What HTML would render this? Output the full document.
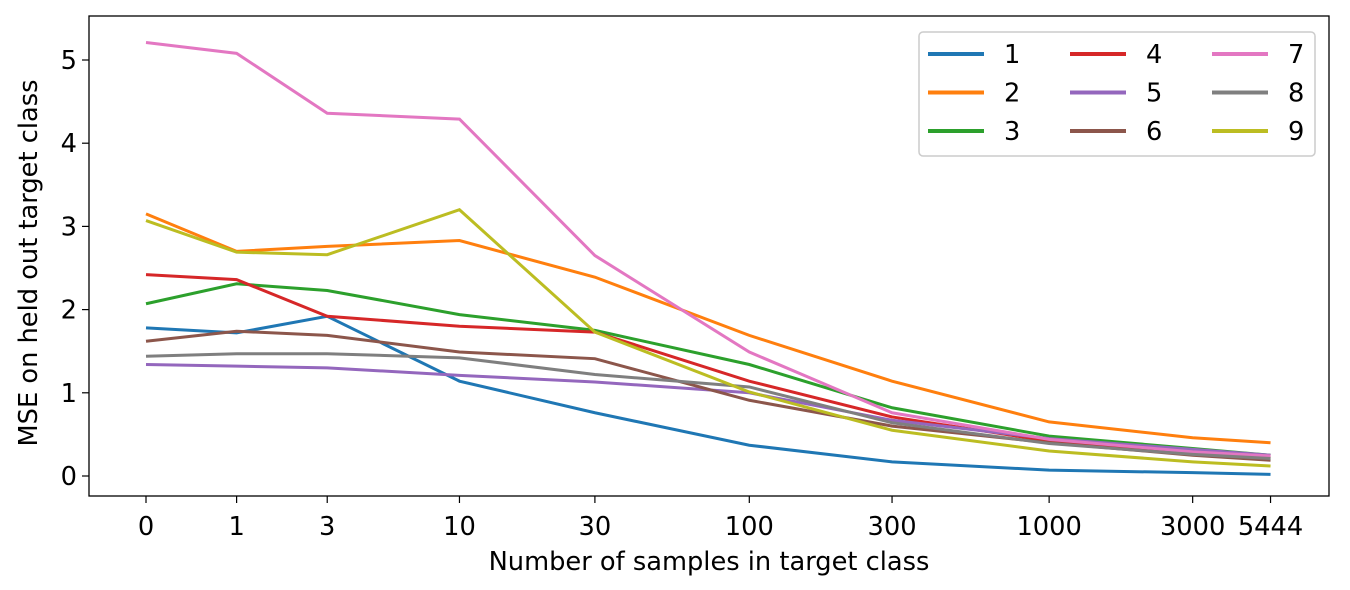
<!DOCTYPE html>
<html><head><meta charset="utf-8"><style>
body{margin:0;background:#fff;}
svg{display:block;font-family:"DejaVu Sans","Liberation Sans",sans-serif;}
</style></head><body>
<svg id="c" width="1350" height="590">
<rect x="89" y="16" width="1240" height="480" fill="none" stroke="#000" stroke-width="1.3"/>
<g id="ticks"></g><g id="lines"></g>
<text x="709" y="570" text-anchor="middle" font-size="25.7">Number of samples in target class</text>
<text transform="translate(37,263) rotate(-90)" text-anchor="middle" font-size="25.7">MSE on held out target class</text>
<g id="legend"><rect x="919" y="32" width="396" height="124" rx="4" fill="#fff" fill-opacity="0.8" stroke="#ccc" stroke-width="1.5"/></g>
</svg>
<script>
const xCats=[0,1,3,10,30,100,300,1000,3000,5444];
const yTicks=[0,1,2,3,4,5];
const s1=[1.78,1.72,1.92,1.14,0.76,0.37,0.17,0.07,0.04,0.02];
const s2=[3.15,2.70,2.76,2.83,2.39,1.69,1.14,0.65,0.46,0.40];
const s3=[2.07,2.31,2.23,1.94,1.75,1.34,0.82,0.48,0.33,0.25];
const s4=[2.42,2.36,1.92,1.80,1.73,1.14,0.71,0.42,0.28,0.22];
const s5=[1.34,1.32,1.30,1.21,1.13,1.00,0.67,0.45,0.32,0.25];
const s6=[1.62,1.74,1.69,1.49,1.41,0.91,0.60,0.40,0.25,0.19];
const s7=[5.21,5.08,4.36,4.29,2.65,1.49,0.76,0.44,0.29,0.24];
const s8=[1.44,1.47,1.47,1.42,1.22,1.07,0.64,0.39,0.26,0.21];
const s9=[3.07,2.69,2.66,3.20,1.73,1.01,0.55,0.30,0.17,0.12];
const seriesNames=["1","2","3","4","5","6","7","8","9"];
const series=[s1,s2,s3,s4,s5,s6,s7,s8,s9];
const colors=["#1f77b4","#ff7f0e","#2ca02c","#d62728","#9467bd","#8c564b","#e377c2","#7f7f7f","#bcbd22"];
const NS="http://www.w3.org/2000/svg";
const X=v=>146+301*Math.log10(v+1);
const Y=v=>476-83.2*v;
function mk(t,a,p){const e=document.createElementNS(NS,t);for(const k in a)e.setAttribute(k,a[k]);p.appendChild(e);return e;}
const tk=document.getElementById('ticks');
xCats.forEach(v=>{const x=X(v);
const l=mk('line',{x1:x,x2:x,y1:496,y2:503,stroke:'#000','stroke-width':1.2},tk);


const t=mk('text',{x:x,y:535,'text-anchor':'middle','font-size':25.7},tk);t.textContent=v;

});
yTicks.forEach(v=>{const y=Y(v);
const l=mk('line',{x1:82,x2:89,y1:y,y2:y,stroke:'#000','stroke-width':1.2},tk);


const t=mk('text',{x:77,y:y+9,'text-anchor':'end','font-size':25.7},tk);t.textContent=v;

});
const lg=document.getElementById('lines');
series.forEach((s,i)=>{const p=mk('polyline',{points:s.map((v,j)=>X(xCats[j])+','+Y(v)).join(' '),fill:'none',stroke:colors[i],'stroke-width':3},lg);

});
const leg=document.getElementById('legend');
seriesNames.forEach((n,i)=>{const col=Math.floor(i/3),row=i%3;const x0=928+col*142,y=54+row*38.5;
const l=mk('line',{x1:x0,x2:x0+56,y1:y,y2:y,stroke:colors[i],'stroke-width':4},leg);


const t=mk('text',{x:x0+76,y:y+9,'font-size':25.7},leg);t.textContent=n;

});
</script>
</body></html>
